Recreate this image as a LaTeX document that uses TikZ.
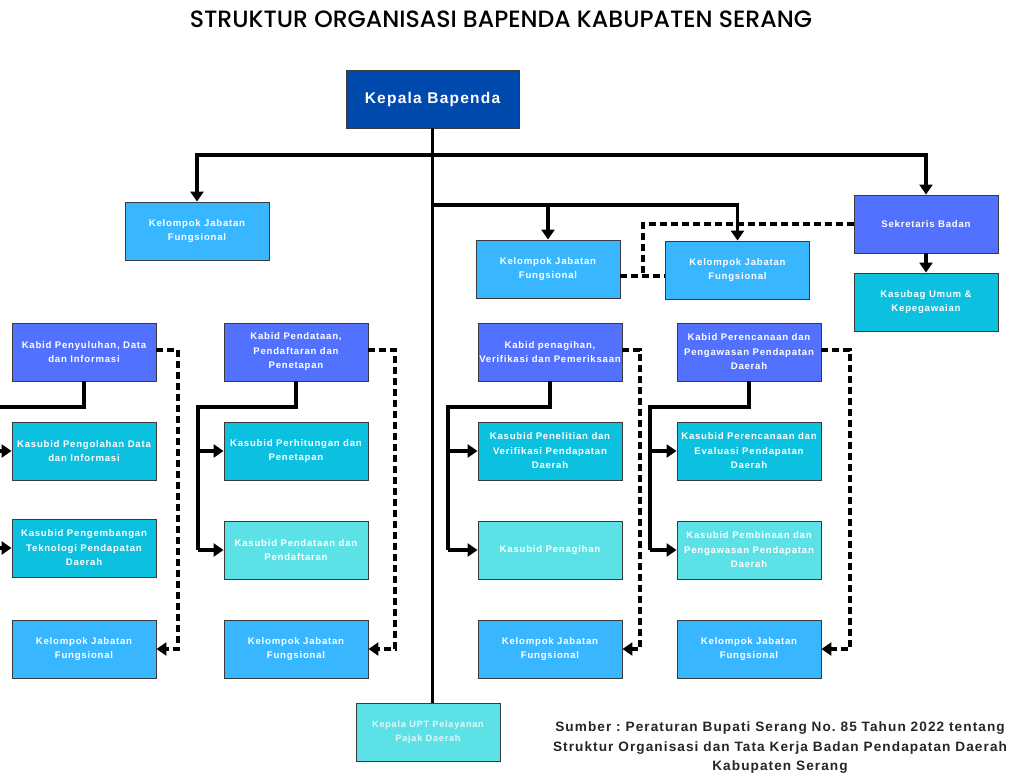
\documentclass[tikz,border=0pt]{standalone}
\usepackage{fontspec}
\setmainfont{Liberation Sans}
\newfontfamily\titlefont{Poppins Medium}
\newfontfamily\boxfont{Liberation Sans}[LetterSpace=8]
\usetikzlibrary{arrows.meta,positioning}
\frenchspacing
\definecolor{kepala}{HTML}{004AAD}
\definecolor{kabid}{HTML}{5271FF}
\definecolor{kasubid}{HTML}{0CC0DF}
\definecolor{kasubidl}{HTML}{5CE1E6}
\definecolor{kjf}{HTML}{38B6FF}
\definecolor{garis}{HTML}{3A3A3A}
\tikzset{
  jabatan/.style={draw=garis, line width=0.9pt, minimum width=144pt, minimum height=58pt,
    inner sep=0pt, align=center, text=white, font=\boxfont\bfseries\fontsize{9.6}{14.5}\selectfont},
  conn/.style={line width=3.1pt, line join=miter},
  arr/.style={conn, -{Triangle[length=10pt,width=13pt]}},
  dsh/.style={dash pattern=on 7pt off 4pt},
}

\begin{document}
\begin{tikzpicture}[x=1pt,y=-1pt]
\useasboundingbox (0,0) rectangle (1011,778);
\fill[white] (0,0) rectangle (1011,778);
\clip (0,0) rectangle (1011,778);
\node[font=\titlefont\fontsize{23.6}{26}\selectfont] (judul) at (501,19) {STRUKTUR ORGANISASI BAPENDA KABUPATEN SERANG};
\node[jabatan, fill=kepala, minimum width=173pt, font=\boxfont\bfseries\fontsize{15.5}{18}\selectfont] (kepala) at (432.5,99) {Kepala Bapenda};
\node[jabatan, fill=kjf] (kjf0) at (197,231) {Kelompok Jabatan\\Fungsional};
\node[jabatan, fill=kjf] (kjf1) at (548,269) {Kelompok Jabatan\\Fungsional};
\node[jabatan, fill=kjf] (kjf2) at (737.5,270) {Kelompok Jabatan\\Fungsional};
\node[jabatan, fill=kabid] (sek) at (926,224) {Sekretaris Badan};
\node[jabatan, fill=kasubid] (umum) at (926,302) {Kasubag Umum \&\\Kepegawaian};
%
%
%
\node[jabatan, fill=kabid] (kb1) at (84,352) {Kabid Penyuluhan, Data\\dan Informasi};
\node[jabatan, fill=kasubid] (sa1) at (84,451) {Kasubid Pengolahan Data\\dan Informasi};
\node[jabatan, fill=kasubid] (sb1) at (84,548) {Kasubid Pengembangan\\Teknologi Pendapatan\\Daerah};
\node[jabatan, fill=kjf] (kj1) at (84,649) {Kelompok Jabatan\\Fungsional};
%
\node[jabatan, fill=kabid] (kb2) at (296,352) {Kabid Pendataan,\\Pendaftaran dan\\Penetapan};
\node[jabatan, fill=kasubid] (sa2) at (296,451) {Kasubid Perhitungan dan\\Penetapan};
\node[jabatan, fill=kasubidl] (sb2) at (296,550) {Kasubid Pendataan dan\\Pendaftaran};
\node[jabatan, fill=kjf] (kj2) at (296,649) {Kelompok Jabatan\\Fungsional};
%
\node[jabatan, fill=kabid] (kb3) at (550,352) {Kabid penagihan,\\Verifikasi dan Pemeriksaan};
\node[jabatan, fill=kasubid] (sa3) at (550,451) {Kasubid Penelitian dan\\Verifikasi Pendapatan\\Daerah};
\node[jabatan, fill=kasubidl] (sb3) at (550,550) {Kasubid Penagihan};
\node[jabatan, fill=kjf] (kj3) at (550,649) {Kelompok Jabatan\\Fungsional};
%
\node[jabatan, fill=kabid] (kb4) at (749,352) {Kabid Perencanaan dan\\Pengawasan Pendapatan\\Daerah};
\node[jabatan, fill=kasubid] (sa4) at (749,451) {Kasubid Perencanaan dan\\Evaluasi Pendapatan\\Daerah};
\node[jabatan, fill=kasubidl] (sb4) at (749,550) {Kasubid Pembinaan dan\\Pengawasan Pendapatan\\Daerah};
\node[jabatan, fill=kjf] (kj4) at (749,649) {Kelompok Jabatan\\Fungsional};
%
\node[jabatan, fill=kasubidl, text=white!80!kasubidl, font=\boxfont\bfseries\fontsize{9.2}{14.5}\selectfont] (upt) at (428,732) {Kepala UPT Pelayanan\\Pajak Daerah};
\node[align=center, text=black!85, font=\boxfont\bfseries\fontsize{13.6}{19.5}\selectfont] (sumber) at (780,748) {Sumber : Peraturan Bupati Serang No. 85 Tahun 2022 tentang\\Struktur Organisasi dan Tata Kerja Badan Pendapatan Daerah\\Kabupaten Serang};
%
%
%
\coordinate (t1) at (432.5,155);
\coordinate (t2) at (432.5,205);
\draw[conn] (kepala.south) -- (kepala.south |- upt.north);
\draw[arr] (t1) -| (kjf0.north);
\draw[arr] (t1) -| (sek.north);
\draw[arr] (t2) -| (kjf1.north);
\draw[arr] (t2) -| (kjf2.north);
\draw[arr] (sek.south) -- (umum.north);
\coordinate (s1) at (643,276);
\draw[conn, dsh] (sek.west) -| (s1);
\draw[conn, dsh] (kjf1.east |- s1) -- (kjf2.west |- s1);
%
\foreach \i/\xe/\xd in {1/-4/178, 2/198/395, 3/448/640, 4/650/850} {
  \coordinate (e\i) at (\xe,407);
  \coordinate (d\i) at (\xd,350);
  \draw[conn] (kb\i.south) |- (e\i) -- (e\i |- sb\i);
  \draw[arr] (e\i |- sa\i) -- (sa\i.west);
  \draw[arr] (e\i |- sb\i) -- (sb\i.west);
  \draw[arr, dsh] (kb\i.east |- d\i) -- (d\i) -- (d\i |- kj\i) -- (kj\i.east);
}
\end{tikzpicture}
\end{document}
